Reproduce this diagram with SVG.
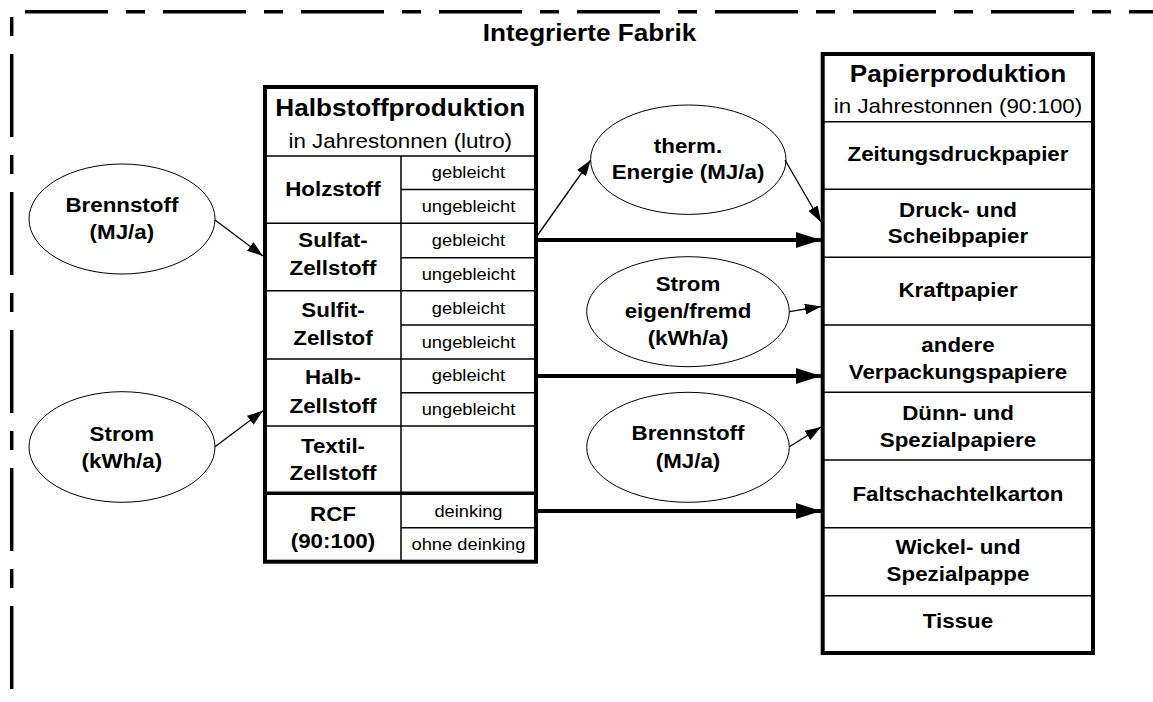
<svg xmlns="http://www.w3.org/2000/svg" width="1153" height="702" viewBox="0 0 1153 702">
  <style>
    text { font-family: "Liberation Sans", Arial, sans-serif; fill: #000; text-anchor: middle; }
    .title { font-size: 24px; font-weight: bold; }
    .sub { font-size: 20.5px; }
    .lbl { font-size: 20.5px; font-weight: bold; }
    .sm { font-size: 16.8px; }
    .frame { fill: none; stroke: #000; stroke-width: 3.5; }
    .box { fill: #fff; stroke: #000; stroke-width: 4; }
    .div { stroke: #000; stroke-width: 1.5; fill: none; }
    .div-thick { stroke: #000; stroke-width: 3.5; fill: none; }
    .src { fill: #fff; stroke: #000; stroke-width: 1; }
    .thin { stroke: #000; stroke-width: 1.3; fill: none; marker-end: url(#arrow-thin); }
    .thick { stroke: #000; stroke-width: 4; fill: none; marker-end: url(#arrow-thick); }
  </style>
  <defs>
    <marker id="arrow-thin" markerUnits="userSpaceOnUse" markerWidth="16" markerHeight="11" refX="16" refY="5.5" orient="auto">
      <path d="M0,0 L16,5.5 L0,11 z" fill="#000"/>
    </marker>
    <marker id="arrow-thick" markerUnits="userSpaceOnUse" markerWidth="25" markerHeight="16" refX="25" refY="8" orient="auto">
      <path d="M0,0 L25,8 L0,16 z" fill="#000"/>
    </marker>
  </defs>

  <rect width="1153" height="702" fill="#fff"/>

  <!-- plant boundary (dashed) -->
  <g id="fabrik">
    <line class="frame" x1="25" y1="11.7" x2="1153" y2="11.7" stroke-dasharray="83 18 19 18"/>
    <line class="frame" x1="11.7" y1="17" x2="11.7" y2="689" stroke-dasharray="19 18 83 18"/>
    <g transform="scale(1.09 1)">
      <text class="title" x="540.8" y="41.5">Integrierte Fabrik</text>
    </g>
  </g>

  <!-- pulp production table -->
  <g id="halbstoff">
    <rect class="box" x="265" y="87" width="271" height="474.7"/>
    <path class="div" d="M265,156 H536 M401,156 V561.7 M265,223.3 H536 M265,290.7 H536 M265,359 H536 M265,426 H536 M401,189.6 H536 M401,257.7 H536 M401,325 H536 M401,392.7 H536 M401,527.7 H536"/>
    <line class="div-thick" x1="265" y1="493.3" x2="536" y2="493.3"/>
    <g transform="scale(1.09 1)">
      <text class="title" x="367.2" y="116">Halbstoffproduktion</text>
      <text class="sub" x="367.2" y="148">in Jahrestonnen (lutro)</text>
      <text class="lbl" x="305.5" y="196">Holzstoff</text>
      <text class="lbl" x="305.5" y="246.7">Sulfat-</text>
      <text class="lbl" x="305.5" y="275">Zellstoff</text>
      <text class="lbl" x="305.5" y="316.7">Sulfit-</text>
      <text class="lbl" x="305.5" y="345">Zellstof</text>
      <text class="lbl" x="305.5" y="384.3">Halb-</text>
      <text class="lbl" x="305.5" y="412.7">Zellstoff</text>
      <text class="lbl" x="305.5" y="452.7">Textil-</text>
      <text class="lbl" x="305.5" y="480">Zellstoff</text>
      <text class="lbl" x="305.5" y="520.7">RCF</text>
      <text class="lbl" x="305.5" y="548.3">(90:100)</text>
      <text class="sm" x="429.8" y="178">gebleicht</text>
      <text class="sm" x="429.8" y="211.8">ungebleicht</text>
      <text class="sm" x="429.8" y="245.8">gebleicht</text>
      <text class="sm" x="429.8" y="279.8">ungebleicht</text>
      <text class="sm" x="429.8" y="314">gebleicht</text>
      <text class="sm" x="429.8" y="347.6">ungebleicht</text>
      <text class="sm" x="429.8" y="381.5">gebleicht</text>
      <text class="sm" x="429.8" y="415.2">ungebleicht</text>
      <text class="sm" x="429.8" y="517">deinking</text>
      <text class="sm" x="429.8" y="550.2">ohne deinking</text>
    </g>
  </g>

  <!-- paper production table -->
  <g id="papier">
    <rect class="box" x="822.7" y="54" width="270.3" height="599"/>
    <path class="div" d="M822.7,121.7 H1093 M822.7,189.3 H1093 M822.7,257.3 H1093 M822.7,325 H1093 M822.7,392.3 H1093 M822.7,460 H1093 M822.7,527.7 H1093 M822.7,595.7 H1093"/>
    <g transform="scale(1.09 1)">
      <text class="title" x="878.9" y="81.7">Papierproduktion</text>
      <text class="sub" x="878.9" y="113.3">in Jahrestonnen (90:100)</text>
      <text class="lbl" x="878.9" y="161">Zeitungsdruckpapier</text>
      <text class="lbl" x="878.9" y="216.7">Druck- und</text>
      <text class="lbl" x="878.9" y="243.3">Scheibpapier</text>
      <text class="lbl" x="878.9" y="296.7">Kraftpapier</text>
      <text class="lbl" x="878.9" y="352.5">andere</text>
      <text class="lbl" x="878.9" y="379">Verpackungspapiere</text>
      <text class="lbl" x="878.9" y="420">Dünn- und</text>
      <text class="lbl" x="878.9" y="446.7">Spezialpapiere</text>
      <text class="lbl" x="878.9" y="501">Faltschachtelkarton</text>
      <text class="lbl" x="878.9" y="554">Wickel- und</text>
      <text class="lbl" x="878.9" y="580.7">Spezialpappe</text>
      <text class="lbl" x="878.9" y="627.7">Tissue</text>
    </g>
  </g>

  <!-- energy inputs -->
  <g id="brennstoff-halbstoff">
    <ellipse class="src" cx="122" cy="219" rx="93" ry="55"/>
    <g transform="scale(1.09 1)">
      <text class="lbl" x="111.8" y="212.3">Brennstoff</text>
      <text class="lbl" x="111.8" y="239.3">(MJ/a)</text>
    </g>
  </g>
  <g id="strom-halbstoff">
    <ellipse class="src" cx="122" cy="447" rx="93" ry="55.3"/>
    <g transform="scale(1.09 1)">
      <text class="lbl" x="111.8" y="441">Strom</text>
      <text class="lbl" x="111.8" y="468.3">(kWh/a)</text>
    </g>
  </g>
  <g id="therm-energie">
    <ellipse class="src" cx="688.3" cy="159.7" rx="97.7" ry="54.7"/>
    <g transform="scale(1.09 1)">
      <text class="lbl" x="631.2" y="152.7">therm.</text>
      <text class="lbl" x="631.2" y="179.3">Energie (MJ/a)</text>
    </g>
  </g>
  <g id="strom-papier">
    <ellipse class="src" cx="688" cy="311.7" rx="101.3" ry="55"/>
    <g transform="scale(1.09 1)">
      <text class="lbl" x="631.2" y="291.5">Strom</text>
      <text class="lbl" x="631.2" y="318">eigen/fremd</text>
      <text class="lbl" x="631.2" y="345">(kWh/a)</text>
    </g>
  </g>
  <g id="brennstoff-papier">
    <ellipse class="src" cx="688" cy="447.3" rx="101.3" ry="55"/>
    <g transform="scale(1.09 1)">
      <text class="lbl" x="631.2" y="440">Brennstoff</text>
      <text class="lbl" x="631.2" y="468.3">(MJ/a)</text>
    </g>
  </g>

  <!-- flows -->
  <g id="connectors">
    <line class="thin" x1="215" y1="220" x2="263" y2="256"/>
    <line class="thin" x1="215" y1="446.7" x2="263" y2="410.7"/>
    <line class="thin" x1="537" y1="236" x2="590.7" y2="160"/>
    <line class="thin" x1="785" y1="160" x2="821" y2="222"/>
    <line class="thin" x1="789.3" y1="311.7" x2="821" y2="306.5"/>
    <line class="thin" x1="789.3" y1="446.7" x2="821" y2="427"/>
    <line class="thick" x1="538" y1="240" x2="821" y2="240"/>
    <line class="thick" x1="538" y1="376" x2="821" y2="376"/>
    <line class="thick" x1="538" y1="511" x2="821" y2="511"/>
  </g>
</svg>
